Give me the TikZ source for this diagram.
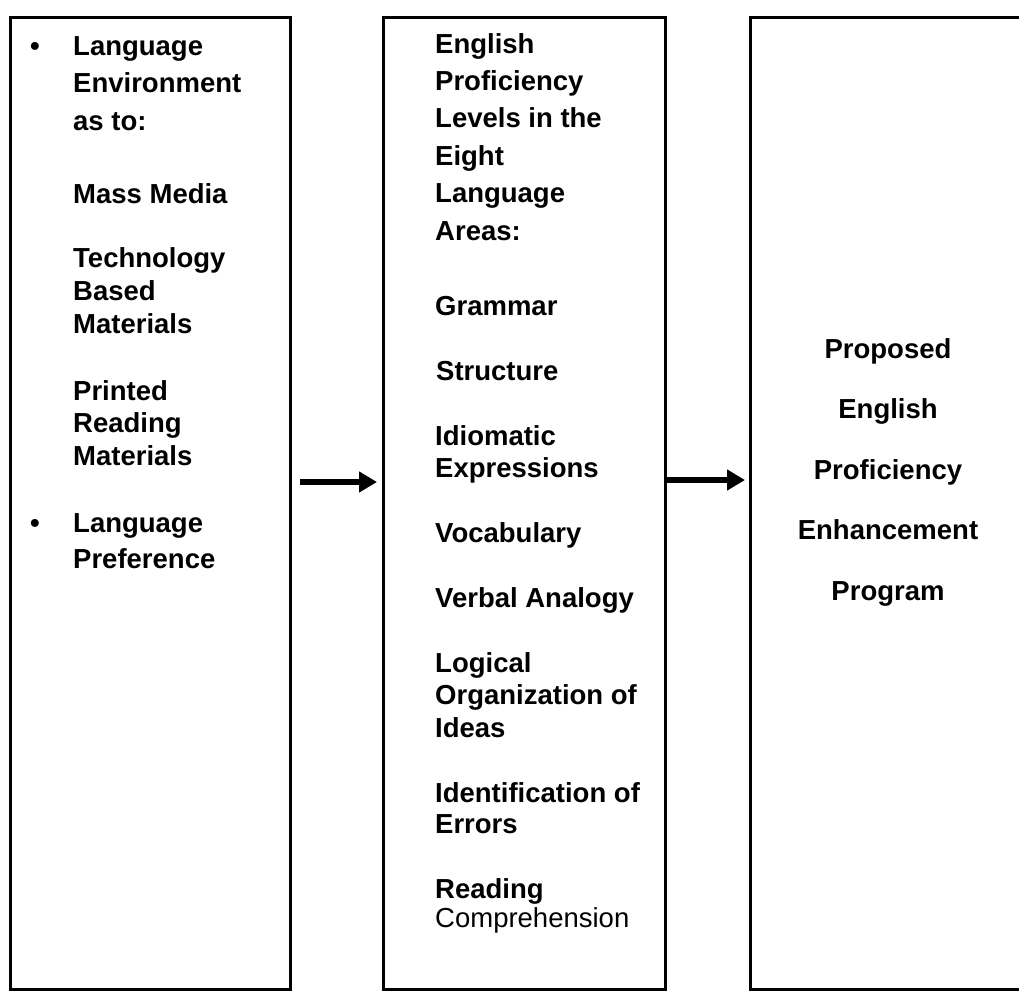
\documentclass[tikz,border=0pt]{standalone}
\usepackage{fontspec}
\setmainfont{Liberation Sans}
\usetikzlibrary{arrows.meta}

\tikzset{
  panel/.style={draw, line width=3pt, minimum width=#1, minimum height=972pt, inner sep=0pt},
  % multi-line nodes sit on the baseline of their last line
  txt/.style={anchor=base west, align=left, inner sep=0pt, font=\fontsize{27.5}{#1}\selectfont\bfseries},
  txt/.default=37.5pt,
  flow/.style={line width=6pt, -{Triangle[length=18pt,width=20pt]}},
}

\begin{document}
\begin{tikzpicture}[x=1pt, y=-1pt]
  \useasboundingbox (0,0) rectangle (1019,991);
  \clip (0,0) rectangle (1019,991);
  % the three columns
  \node[panel=280pt] (env) at (150,503) {};
  \node[panel=282pt] (lev) at (524,503) {};
  \node[panel=278pt] (prog) at (889,503) {};
  % left column
  \node[txt] (b1) at (30,55) {\textbullet};
  \node[txt] (e1) at (73,130) {Language\\Environment\\as to:};
  \node[txt] (e2) at (73,203) {Mass Media};
  \node[txt=33pt] (e3) at (73,333) {Technology\\Based\\Materials};
  \node[txt=32.5pt] (e4) at (73,465) {Printed\\Reading\\Materials};
  \node[txt] (b2) at (30,532) {\textbullet};
  \node[txt=36pt] (e5) at (73,568) {Language\\Preference};
  % middle column
  \node[txt=37.4pt] (l1) at (435,240) {English\\Proficiency\\Levels in the\\Eight\\Language\\Areas:};
  \node[txt] (l2) at (435,315) {Grammar};
  \node[txt] (l3) at (436,380) {Structure};
  \node[txt=32pt] (l4) at (435,477) {Idiomatic\\Expressions};
  \node[txt] (l5) at (435,542) {Vocabulary};
  \node[txt] (l6) at (435,607) {Verbal Analogy};
  \node[txt=32.5pt] (l7) at (435,737) {Logical\\Organization of\\Ideas};
  \node[txt=31pt] (l8) at (435,833) {Identification of\\Errors};
  \node[txt] (l9) at (435,898) {Reading};
  \node[txt, font=\fontsize{27.5}{30}\selectfont\mdseries] (l10) at (435,927) {Comprehension};
  % right column
  \node[txt=60.5pt, anchor=base, align=center] (p1) at (888,600)
    {Proposed\\English\\Proficiency\\Enhancement\\Program};
  % arrows between the columns
  \draw[flow, shorten <=8.5pt, shorten >=4.5pt] ([yshift=21pt]env.east) -- ([yshift=21pt]lev.west);
  \draw[flow, shorten >=3.5pt] ([yshift=23pt]lev.east) -- ([yshift=23pt]prog.west);
\end{tikzpicture}
\end{document}
